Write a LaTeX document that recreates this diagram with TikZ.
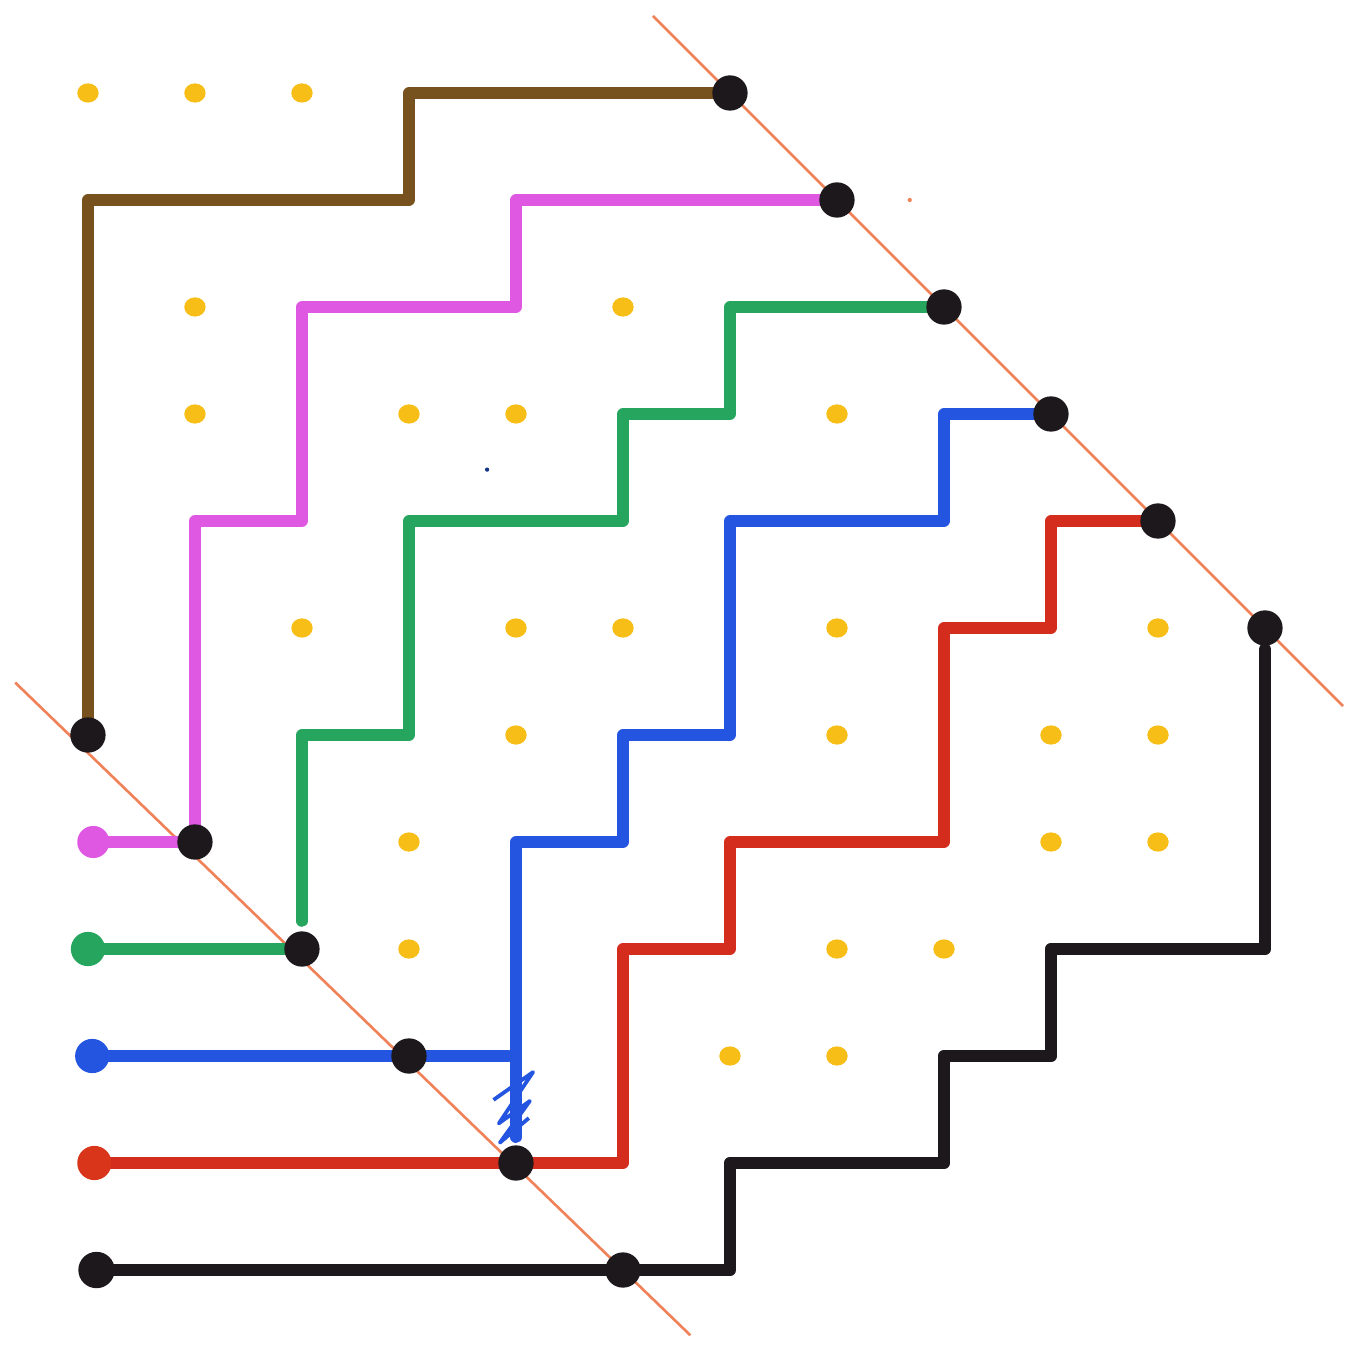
\documentclass[tikz,border=0pt]{standalone}
\definecolor{routebrown}{RGB}{120,82,30}
\definecolor{routemagenta}{RGB}{222,88,226}
\definecolor{routegreen}{RGB}{38,165,95}
\definecolor{routeblue}{RGB}{35,85,225}
\definecolor{routered}{RGB}{212,45,30}
\definecolor{routeblack}{RGB}{28,24,28}
\definecolor{dotyellow}{RGB}{246,190,22}
\definecolor{lineorange}{RGB}{240,130,90}
\tikzset{route/.style={line width=3pt,line cap=round,line join=round},
  diag/.style={draw=lineorange,line width=.7pt},
  enddot/.style={fill=routeblack}}
\begin{document}
\begin{tikzpicture}[x=1cm,y=1cm]
  \path[use as bounding box] (-0.822,-11.757) rectangle (11.776,0.869);
  \draw[diag] (5.28,0.72) -- (11.73,-5.73);
  \draw[diag] (-0.68,-5.51) -- (5.63,-11.61);
  \foreach \c/\r in {0/0,1/0,2/0,1/2,5/2,1/3,3/3,4/3,7/3,2/5,4/5,5/5,7/5,10/5,
      4/6,7/6,9/6,10/6,3/7,9/7,10/7,3/8,7/8,8/8,6/9,7/9}
    \fill[dotyellow] (\c,-\r) ellipse[x radius=0.1,y radius=0.09];
  \fill[lineorange] (7.68,-1.0) circle[radius=0.02];
  \fill[routeblue!60!black] (3.73,-3.52) circle[radius=0.02];
  \draw[route,routebrown] (0,-6) |- (3,-1) |- (6,0);
  \draw[route,routemagenta] (0.05,-7) -- (1,-7) |- (2,-4) |- (4,-2) |- (7,-1);
  \draw[route,routegreen] (0,-8) -- (2,-8);
  \draw[route,routegreen] (2,-7.74) |- (3,-6) |- (5,-4) |- (6,-3) |- (8,-2);
  \draw[route,routeblue] (0.04,-9) -- (3.93,-9);
  \draw[route,routeblue] (4,-9.76) |- (5,-7) |- (6,-6) |- (8,-4) |- (9,-3);
  \draw[routeblue,line width=1pt,line join=round] (3.79,-9.41) -- (4.16,-9.15) -- (3.84,-9.63)
    -- (4.13,-9.42) -- (3.85,-9.81) -- (4.12,-9.58);
  \draw[route,routered] (0.06,-10) -- (5,-10) |- (6,-8) |- (8,-7) |- (9,-5) |- (10,-4);
  \draw[route,routeblack,line width=3.3pt] (0.08,-11) -- (6,-11) |- (8,-10) |- (9,-9) |- (11,-8) -- (11,-5.2);
  % start dots
  \fill[routemagenta] (0.05,-7) circle[radius=0.15];
  \fill[routegreen] (0,-8) circle[radius=0.16];
  \fill[routeblue] (0.04,-9) circle[radius=0.16];
  \fill[routered!90!orange] (0.06,-10) circle[radius=0.16];
  \fill[routeblack] (0.08,-11) circle[radius=0.17];
  % end dots on the two diagonals
  \foreach \c/\r in {0/6,1/7,2/8,3/9,4/10,5/11,6/0,7/1,8/2,9/3,10/4,11/5}
    \fill[enddot] (\c,-\r) circle[radius=0.165];
\end{tikzpicture}
\end{document}
